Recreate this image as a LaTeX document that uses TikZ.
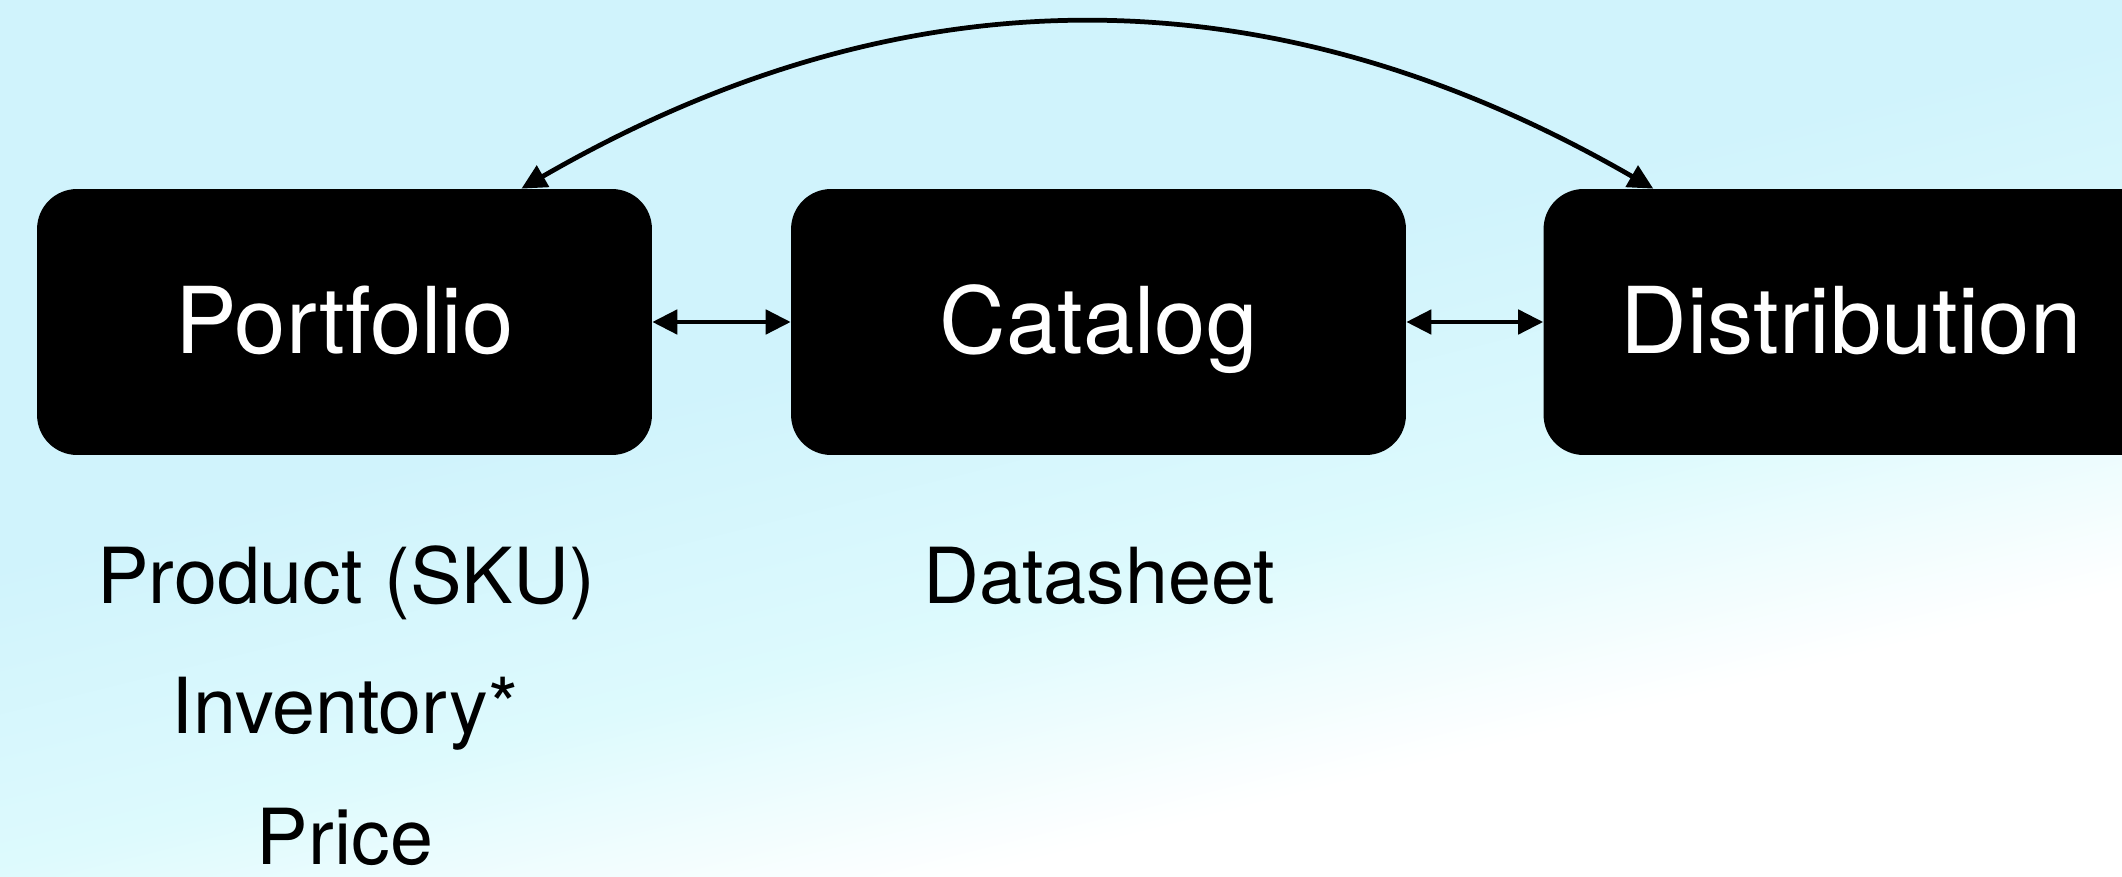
\documentclass[tikz,border=0pt]{standalone}
\usepackage{fontspec}
\setmainfont{TeX Gyre Heros}
\usetikzlibrary{arrows.meta}
\definecolor{skytop}{RGB}{208,243,252}
\definecolor{skymid}{RGB}{221,250,253}
\pgfdeclareverticalshading{skyfade}{100bp}{color(0bp)=(white); color(32bp)=(white); color(43bp)=(skymid); color(56bp)=(skytop); color(100bp)=(skytop)}

\begin{document}
\begin{tikzpicture}[x=0.02cm, y=0.02cm,
    block/.style={shape=rectangle, rounded corners=0.8cm, fill=black, text=white,
        minimum width=12.3cm, minimum height=5.32cm, inner sep=0pt,
        font=\fontsize{52.5}{62}\selectfont, text height=1.26cm, text depth=0cm},
    item/.style={anchor=base, inner sep=0pt, font=\fontsize{44}{52}\selectfont},
    link/.style={line width=0.095cm, {Triangle[length=0.5cm,width=0.48cm]}-{Triangle[length=0.5cm,width=0.48cm]}}]
    \useasboundingbox (0,0) rectangle (2122,876);
    \shade[shading=skyfade, shading angle=14] (0,0) rectangle (2122,876);

    \node[block] (PF)  at (344.5,554) {Portfolio};
    \node[block] (CAT) at (1098.5,554) {Catalog};
    \node[block] (DIS) at (1851,554) {Distribution};

    \node[item] (SKU) at (346,273) {Product (SKU)};
    \node[item] (INV) at (345,143) {Inventory*};
    \node[item] (PRC) at (345,12)  {Price};
    \node[item] (DS)  at (1099,273) {Datasheet};

    \path [link] (PF)  edge (CAT);
    \path [link] (CAT) edge (DIS);
    \path [link] (PF.37) edge [bend left=30, looseness=1.0] (DIS.146);
\end{tikzpicture}
\end{document}
